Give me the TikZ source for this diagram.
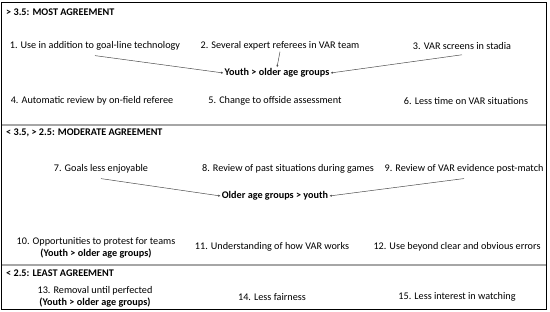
\documentclass[tikz,border=0pt]{standalone}
\usepackage{fontspec}
\setmainfont{Carlito}
\usetikzlibrary{arrows.meta}

\begin{document}
\begin{tikzpicture}[
    x=1pt, y=-1pt,
    font=\fontsize{10.2}{11.5}\selectfont,
    >={Latex[length=2.4pt,width=2.2pt]},
    item/.style={inner sep=1pt, align=center},
    verdict/.style={inner sep=1pt, align=center, font=\fontsize{10.2}{11.5}\selectfont\bfseries},
    head/.style={anchor=west, inner sep=1pt, font=\fontsize{10.2}{11.5}\selectfont\bfseries},
    link/.style={->, draw=black!70, line width=0.5pt},
    divider/.style={draw=black!35, line width=1.2pt},
]
\useasboundingbox (0,0) rectangle (550,312);

%% ---- frame and band dividers ----
\draw[line width=0.8pt] (1.5,2) rectangle (546.5,309);
\draw[divider] (2,125) -- (546,125);
\draw[divider] (2,265) -- (546,265);

%% ---- BAND 1: most agreement ----
\node[head] (h1) at (5,12) {> 3.5: MOST AGREEMENT};
\node[item] (i1) at (95,46)  {1. Use in addition to goal-line technology};
\node[item] (i2) at (280,46) {2. Several expert referees in VAR team};
\node[item] (i3) at (462,46) {3. VAR screens in stadia};
\node[verdict] (v1) at (277,73) {Youth > older age groups};
\node[item] (i4) at (92,101)  {4. Automatic review by on-field referee};
\node[item] (i5) at (275,101) {5. Change to offside assessment};
\node[item] (i6) at (466,101) {6. Less time on VAR situations};

\draw[link] ([yshift=-4pt]i1.south) -- (v1.west);
\draw[link] (i2.south) -- (v1.north);
\draw[link] ([yshift=-4pt]i3.south) -- (v1.east);

%% ---- BAND 2: moderate agreement ----
\node[head] (h2) at (5,133) {< 3.5, > 2.5: MODERATE AGREEMENT};
\node[item] (i7) at (101,169) {7. Goals less enjoyable};
\node[item] (i8) at (288,169) {8. Review of past situations during games};
\node[item] (i9) at (464,169) {9. Review of VAR evidence post-match};
\node[verdict] (v2) at (275,196) {Older age groups > youth};
\node[item] (i10) at (96,248) {10. Opportunities to protest for teams\\\textbf{(Youth > older age groups)}};
\node[item] (i11) at (272,247) {11. Understanding of how VAR works};
\node[item] (i12) at (457,247) {12. Use beyond clear and obvious errors};

\draw[link] ([yshift=-4pt]i7.south) -- (v2.west);
\draw[link] ([yshift=-4pt]i9.south) -- (v2.east);

%% ---- BAND 3: least agreement ----
\node[head] (h3) at (5,273) {< 2.5: LEAST AGREEMENT};
\node[item] (i13) at (95,297) {13. Removal until perfected\\\textbf{(Youth > older age groups)}};
\node[item] (i14) at (272,297) {14. Less fairness};
\node[item] (i15) at (457,297) {15. Less interest in watching};

\end{tikzpicture}
\end{document}
